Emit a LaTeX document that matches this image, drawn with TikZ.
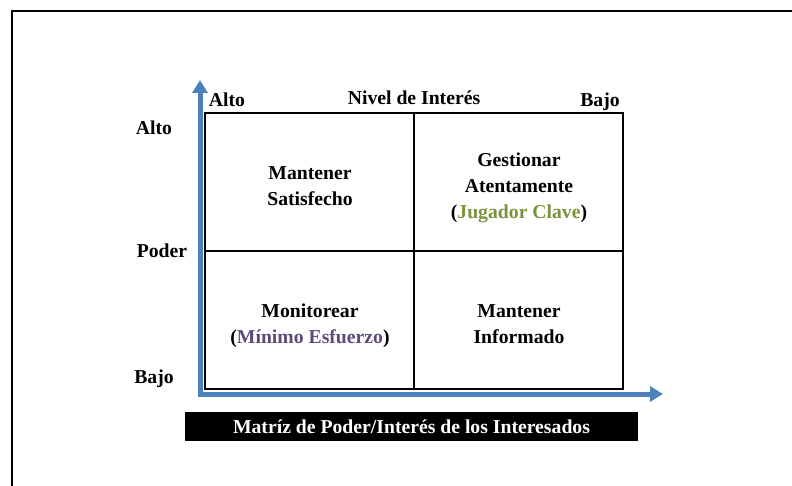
\documentclass[tikz,border=0pt]{standalone}
\usepackage{fontspec}
\setmainfont{Liberation Serif}
\usetikzlibrary{arrows.meta}
\definecolor{ejeazul}{RGB}{79,129,189}
\definecolor{verdeclave}{RGB}{119,147,60}
\definecolor{moradomin}{RGB}{96,74,123}

\begin{document}
\begin{tikzpicture}[x=1pt,y=-1pt,font=\fontsize{19.7}{26}\selectfont\bfseries]
		\tikzstyle{cell}=[draw,line width=1.6pt,minimum width=209pt,minimum height=138pt,inner sep=0pt]
		\tikzstyle{celltext}=[align=center,inner sep=0pt]
		\tikzstyle{axis}=[draw=ejeazul,line width=5pt,line join=miter,{Triangle[width=15pt,length=13pt]}-{Triangle[width=15pt,length=13pt]}]

		\useasboundingbox (0,0) rectangle (792,486);
		\draw[line width=2pt] (12,486) -- (12,11) -- (792,11);

		\coordinate (ytip) at (200,80);
		\coordinate (corner) at (200,394);
		\coordinate (xtip) at (663,394);
		\draw[axis] (ytip) -- (corner) -- (xtip);

		\node[cell](satisfecho) at (309.5,182){};
		\node[cell](atento) at (518.5,182){};
		\node[cell](monitor) at (309.5,320){};
		\node[cell](informado) at (518.5,320){};

		\node[celltext](tsat) at (310,186){Mantener\\Satisfecho};
		\node[celltext](tate) at (519,188){Gestionar\\Atentamente\\(\textcolor{verdeclave}{Jugador Clave})};
		\node[celltext](tmon) at (310,326){Monitorear\\(\textcolor{moradomin}{Mínimo Esfuerzo})};
		\node[celltext](tinf) at (519,324){Mantener\\Informado};

		\node[anchor=base](altox) at (227,107){Alto};
		\node[anchor=base](nivel) at (414,105){Nivel de Interés};
		\node[anchor=base](bajox) at (600,107){Bajo};
		\node[anchor=base](altoy) at (154,135){Alto};
		\node[anchor=base](poder) at (162,258){Poder};
		\node[anchor=base](bajoy) at (154,383){Bajo};

		\node[fill=black,text=white,minimum width=453pt,minimum height=29pt](titulo) at (411.5,426.5){Matríz de Poder/Interés de los Interesados};
	\end{tikzpicture}
\end{document}
